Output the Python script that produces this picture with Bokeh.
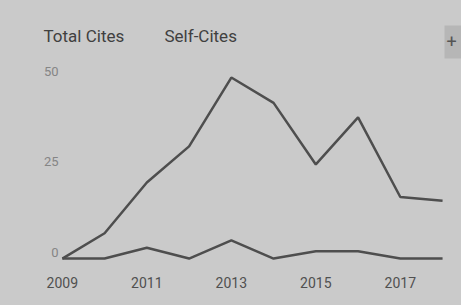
from bokeh.plotting import figure
from bokeh.layouts import column
from bokeh.models import Range1d, FixedTicker, Label, BoxAnnotation, LinearAxis
from bokeh.embed import file_html
from bokeh.resources import INLINE

years = [2009, 2010, 2011, 2012, 2013, 2014, 2015, 2016, 2017, 2018]
total_cites = [0, 7, 21, 31, 50, 43, 26, 39, 17, 16]
self_cites = [0, 0, 3, 0, 5, 0, 2, 2, 0, 0]
x_ticks = [2009, 2011, 2013, 2015, 2017]
y_ticks = [0, 25, 50]
legend_labels = ["Total Cites", "Self-Cites"]

BG = "#cacaca"
LINE = "#4e4e4e"
W = 461

# header strip with the legend texts and the "+" button
head = figure(width=W, height=60, output_backend="svg", toolbar_location=None,
              x_range=Range1d(0, 1), y_range=Range1d(0, 1),
              min_border=0, x_axis_type=None, y_axis_type=None)
head.frame_align = False
head.background_fill_color = BG
head.border_fill_color = BG
head.outline_line_color = None
head.grid.grid_line_color = None
for txt, x in zip(legend_labels, [43, 164]):
    head.add_layout(Label(x=x, y=25, x_units="screen", y_units="screen", text=txt,
                          text_font="Roboto", text_font_size="17px", text_color="#404040",
                          text_baseline="middle"))
head.add_layout(BoxAnnotation(left=444, right=461, top=35, bottom=2, left_units="screen",
                              right_units="screen", top_units="screen", bottom_units="screen",
                              fill_color="#b6b6b6", fill_alpha=1, line_color=None))
head.add_layout(Label(x=446, y=19, x_units="screen", y_units="screen", text="+",
                      text_font="Roboto", text_font_size="18px", text_color="#555555",
                      text_baseline="middle"))

p = figure(width=W, height=245, output_backend="svg", toolbar_location=None,
           x_range=Range1d(2008.98, 2018.33), y_range=Range1d(-3.3, 52.5),
           y_axis_location=None,
           min_border_left=61, min_border_right=5, min_border_top=8, min_border_bottom=35)
p.frame_align = False
p.background_fill_color = BG
p.border_fill_color = BG
p.outline_line_color = None
p.grid.grid_line_color = None

p.line(years, total_cites, line_color=LINE, line_width=2.5)
p.line(years, self_cites, line_color=LINE, line_width=2.5)

# tick labels sit a little above their values, as in the reference
p.extra_y_ranges = {"labels": Range1d(-3.3 - 1.7, 52.5 - 1.7)}
yax = LinearAxis(y_range_name="labels", ticker=FixedTicker(ticks=y_ticks))
p.add_layout(yax, "left")

p.xaxis.ticker = FixedTicker(ticks=x_ticks)
for ax in (p.xaxis[0], yax):
    ax.axis_line_color = None
    ax.major_tick_line_color = None
    ax.minor_tick_line_color = None
    ax.major_label_text_font = "Roboto"
p.xaxis.major_label_text_font_size = "14px"
p.xaxis.major_label_text_color = "#505050"
p.xaxis.major_label_standoff = 0
yax.major_label_text_font_size = "13px"
yax.major_label_text_color = "#858585"
yax.major_label_standoff = -3

layout = column(head, p, spacing=0)
html = file_html(layout, INLINE)
html = html.replace("<head>", "<head><style>html,body{background:#cacaca;}</style>", 1)
open("out.html", "w").write(html)
